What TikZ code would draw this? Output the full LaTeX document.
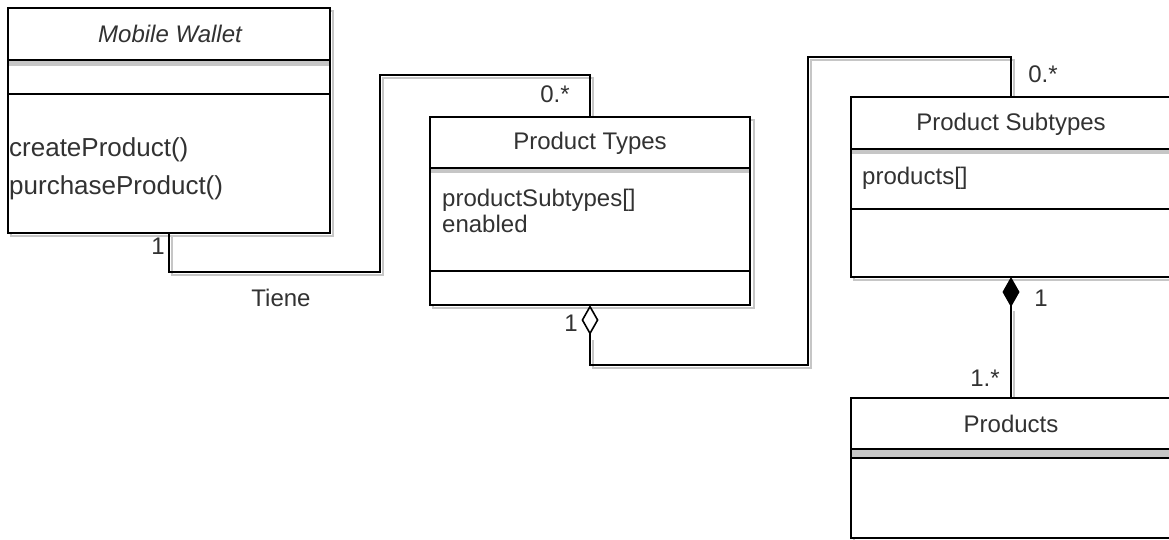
\documentclass[tikz,border=0pt]{standalone}
\usepackage{fontspec}
\setmainfont{Liberation Sans}
\usetikzlibrary{calc,arrows.meta}
\definecolor{ink}{RGB}{50,50,50}
\tikzset{
  umlbox/.style={draw=black, line width=1.6pt, fill=white, anchor=north west,
    inner sep=0pt, outer sep=0pt, minimum width=#1},
  umlbox/.default=320pt,
  shade line/.style={draw=gray!45, line width=1.4pt},
  sep line/.style={draw=black, line width=1.6pt},
  sep band/.style={fill=gray!45, draw=none},
  conn/.style={draw=black, line width=1.6pt},
  lbl/.style={text=ink, font=\fontsize{24}{28}\selectfont, inner sep=0pt},
  title/.style={lbl},
  member/.style={lbl, anchor=west},
  method/.style={member, font=\fontsize{26}{30}\selectfont},
}
\begin{document}
\begin{tikzpicture}[x=1pt, y=-1pt]
\useasboundingbox (0,0) rectangle (1169,540);
\fill[white] (0,0) rectangle (1169,540);
\clip (0,0) rectangle (1169,540);

% ---- shadows of connectors
\draw[shade line] (172,236) -- (172,275) -- (383,275) -- (383,78) -- (593,78) -- (593,120);
\draw[shade line] (593,340) -- (593,368) -- (811,368) -- (811,60) -- (1014,60) -- (1014,100);
\draw[shade line] (1014,311) -- (1014,401);

% ---- class boxes (shadow outlines first)
\draw[shade line] (11,11) rectangle (333,236);
\draw[shade line] (433,120) rectangle (754,308);
\draw[shade line] (854,100) rectangle (1174,280);
\draw[shade line] (854,401) rectangle (1174,541);

\node[umlbox=322pt, minimum height=225pt] (mw) at (8,8) {};
\node[umlbox, minimum height=188pt] (pt) at (430,117) {};
\node[umlbox, minimum height=180pt] (ps) at (851,97) {};
\node[umlbox, minimum height=140pt] (pr) at (851,398) {};

% Mobile Wallet compartments
\fill[sep band] (9,61) rectangle (329,66);
\draw[sep line] (8,60) -- (330,60);
\draw[sep line] (8,94) -- (330,94);
\node[title, font=\fontsize{24}{28}\selectfont\itshape] (mwt) at (170,34) {Mobile Wallet};
\node[method] (m1) at (9,150) {createProduct()};
\node[method] (m2) at (9,188) {purchaseProduct()};

% Product Types compartments
\fill[sep band] (431,169) rectangle (749,173);
\draw[sep line] (430,168) -- (750,168);
\draw[sep line] (430,271) -- (750,271);
\node[title] (ptt) at (590,143) {Product Types};
\node[member] (a1) at (442,200) {productSubtypes[]};
\node[member] (a2) at (442,224) {enabled};

% Product Subtypes compartments
\fill[sep band] (852,150) rectangle (1171,154);
\draw[sep line] (851,149) -- (1171,149);
\draw[sep line] (851,209) -- (1171,209);
\node[title] (pst) at (1011,124) {Product Subtypes};
\node[member] (a3) at (862,178) {products[]};

% Products compartments
\fill[sep band] (852,449) rectangle (1171,458);
\draw[sep line] (851,449) -- (1171,449);
\draw[sep line] (851,458) -- (1171,458);
\node[title] (prt) at (1011,424) {Products};

% ---- connectors
\coordinate (c1a) at (mw.south |- 0,272);
\coordinate (c1b) at (380,272);
\coordinate (c1c) at (380,75);
\coordinate (c1d) at (pt.north |- 0,75);
\draw[conn] (mw.south) -- (c1a) -- (c1b) -- (c1c) -- (c1d) -- (pt.north);

\coordinate (c2a) at (pt.south |- 0,365);
\coordinate (c2b) at (808,365);
\coordinate (c2c) at (808,57);
\coordinate (c2d) at (ps.north |- 0,57);
\draw[conn, {Diamond[open, length=30pt, width=17pt]}-, line join=miter]
  (pt.south) -- (c2a) -- (c2b) -- (c2c) -- (c2d) -- (ps.north);

\draw[conn, {Diamond[length=30pt, width=17pt]}-, line join=miter]
  (ps.south) -- (pr.north);

% ---- multiplicities and role
\node[lbl] (l1) at (158,246) {1};
\node[lbl] (l2) at (281,298) {Tiene};
\node[lbl] (l3) at (555,94) {0.*};
\node[lbl] (l4) at (571,323) {1};
\node[lbl] (l5) at (1043,74) {0.*};
\node[lbl] (l6) at (1041,298) {1};
\node[lbl] (l7) at (985,378) {1.*};
\end{tikzpicture}
\end{document}
